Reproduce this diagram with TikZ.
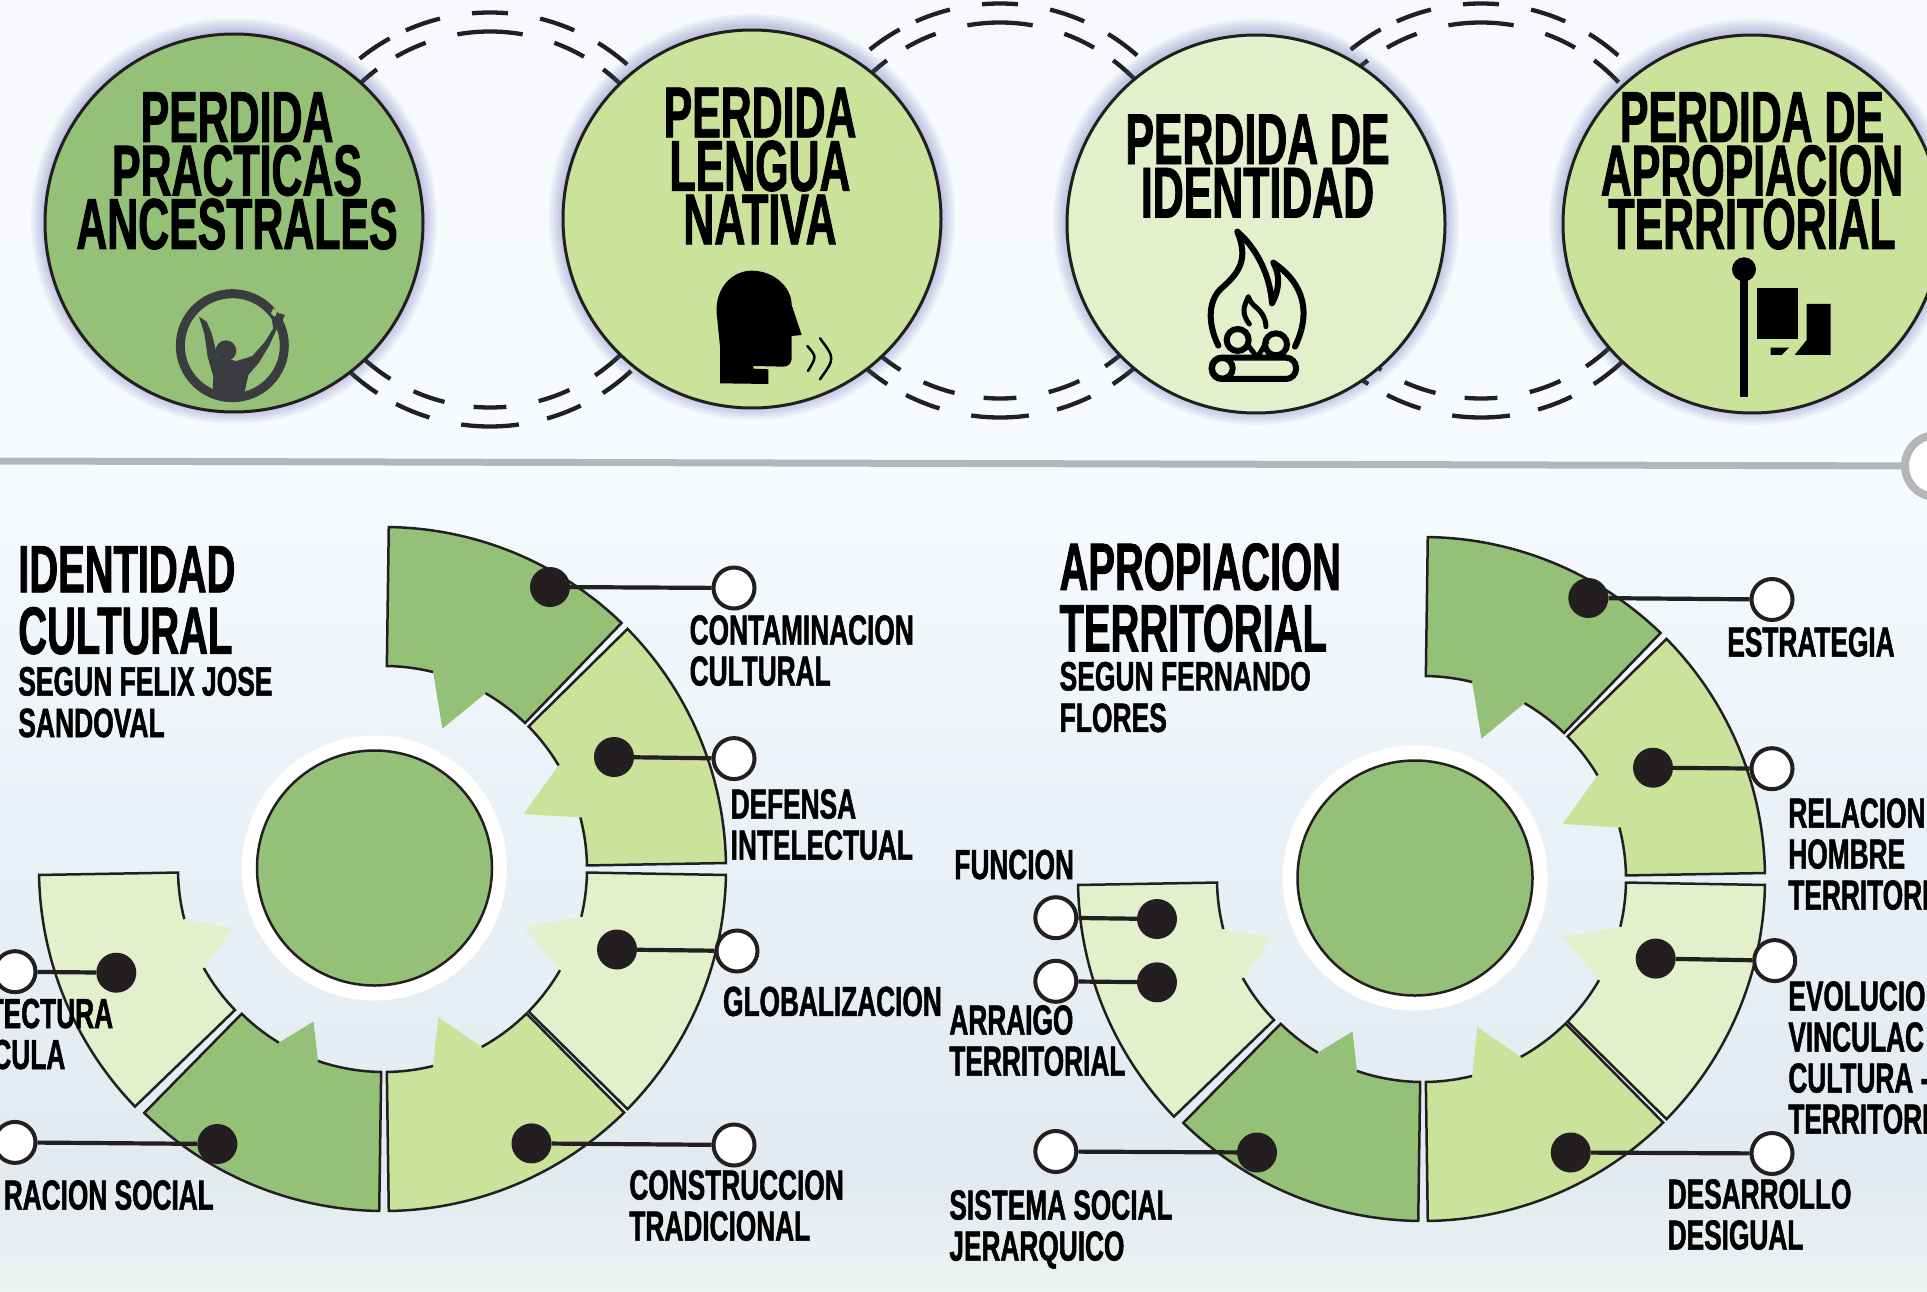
\documentclass[tikz,border=0pt]{standalone}
\usepackage{fontspec}
\setmainfont[FakeStretch=0.595,FakeBold=1.2]{Liberation Sans}
\newfontfamily\widertype[FakeStretch=0.645,FakeBold=1.2]{Liberation Sans}
\newfontfamily\tagtype[FakeStretch=0.625,FakeBold=1.2]{Liberation Sans}
\usepackage{tikz}

\definecolor{leafdark}{HTML}{94C077}
\definecolor{leafmid}{HTML}{CAE29A}
\definecolor{leafpale}{HTML}{E4EFCB}
\definecolor{inkline}{HTML}{231F20}
\definecolor{railgray}{HTML}{B5B6B8}
\definecolor{haloblue}{HTML}{5A5FB0}
\definecolor{figuregray}{HTML}{3A3C40}
\definecolor{skyone}{HTML}{F7F9FC}
\definecolor{skytwo}{HTML}{F7FAFE}
\definecolor{skythree}{HTML}{EBF2F7}
\definecolor{skyfour}{HTML}{E2EAF0}
\definecolor{skyfive}{HTML}{EEF2F1}

\tikzset{
  bigdisc/.style={circle,draw=inkline,line width=3,minimum size=378pt,inner sep=0},
  coredisc/.style={circle,draw=inkline,line width=2.5,fill=leafdark,minimum size=235pt,inner sep=0},
  corering/.style={circle,fill=white,minimum size=265pt,inner sep=0},
  dotnode/.style={circle,fill=inkline,minimum size=40pt,inner sep=0},
  hollownode/.style={circle,draw=inkline,line width=4,fill=white,minimum size=41pt,inner sep=0},
  linkline/.style={draw=inkline,line width=4.2},
  dashpiece/.style={draw=inkline,line width=4.3},
  discfont/.style={font=\bfseries\fontsize{72}{53.5}\selectfont,align=center,inner sep=0},
  headfont/.style={font=\bfseries\fontsize{67}{61.5}\selectfont,align=left,anchor=north west,inner sep=0,xshift=-1.5pt},
  subfont/.style={font=\widertype\bfseries\fontsize{41}{41.5}\selectfont,align=left,anchor=north west,inner sep=0,xshift=-1.5pt},
  tagfont/.style={font=\tagtype\bfseries\fontsize{42}{41}\selectfont,align=left,anchor=north west,inner sep=0,xshift=-1.5pt},
}

\begin{document}
\begin{tikzpicture}[x=1pt,y=-1pt]
\path[use as bounding box] (0,0) rectangle (1927,1292);
\clip (0,0) rectangle (1927,1292);

\shade[top color=skyone,bottom color=skytwo] (0,0) rectangle (1927,480);
\shade[top color=skytwo,bottom color=skythree] (0,480) rectangle (1927,800);
\shade[top color=skythree,bottom color=skyfour] (0,800) rectangle (1927,1170);
\shade[top color=skyfour,bottom color=skyfive] (0,1170) rectangle (1927,1292);

\foreach \ringx/\ringy in {490/219.5,1000/210.5,1481/210.5}{
  \foreach \angfrom/\angto/\rad in {85/95/207,66/76/207,48.5/58.5/207,104/114/207,119/129/207,
      80/100/188,60/70/188,43/53/188,110/120/188,127/137/188,
      262/278/207,243/253/207,286/296/207,303/313/207,227/237/207,
      265/275/188,246/256/188,285/295/188,304/314/188,228/238/188}{
    \draw[dashpiece,shift={(\ringx,\ringy)},yscale=-1] (\angfrom:\rad) arc[start angle=\angfrom,end angle=\angto,radius=\rad];
  }
}

\foreach \discx/\discy in {234/221,752/217,1256/222,1752/222}{
  \foreach \glow in {2,4,...,14}{
    \fill[haloblue,opacity=.055] (\discx,\discy) circle[radius=189+\glow];
  }
}

\node[bigdisc,fill=leafdark] (practicas) at (234,223) {};
\node[bigdisc,fill=leafmid] (lengua) at (752,219) {};
\node[bigdisc,fill=leafpale] (identidad) at (1256,224) {};
\node[bigdisc,fill=leafmid] (apropiacion) at (1752,224) {};

\node[discfont] (practicastext) at (237,171) {PERDIDA\\PRACTICAS\\ANCESTRALES};
\node[discfont] (lenguatext) at (760,166) {PERDIDA\\LENGUA\\NATIVA};
\node[discfont] (identidadtext) at (1257.5,166) {PERDIDA DE\\IDENTIDAD};
\node[discfont] (apropiaciontext) at (1752,171) {PERDIDA DE\\APROPIACION\\TERRITORIAL};

\begin{scope}[shift={(165,280)},x=.3333pt,y=-.3333pt]
\draw[figuregray,line width=9] (202,197) circle[radius=156];
\fill[leafdark] (325,85) -- (338,92) -- (330,112) -- (318,100) -- cycle;
\fill[figuregray] (102,110) -- (125,125) -- (140,160) -- (158,232) -- (215,243) -- (262,228) -- (300,185) -- (325,145)
  -- (320,115) -- (345,100) -- (360,105) -- (350,125) -- (335,148) -- (312,198) -- (282,248) -- (250,285) -- (238,340)
  -- (200,362) -- (143,335) -- (145,290) -- (128,230) -- (118,160) -- cycle;
\fill[figuregray] (183,212) circle[radius=31];
\end{scope}

\begin{scope}[shift={(700,260)},x=.3333pt,y=-.3333pt]
\fill[black] (60,370) -- (60,260) -- (50,160) .. controls (45,80) and (100,32) .. (155,32)
  .. controls (220,32) and (275,80) .. (275,135) -- (305,225) -- (275,228) -- (275,295)
  .. controls (275,310) and (265,320) .. (250,320) -- (160,318) -- (160,326) -- (205,328) -- (205,372) -- cycle;
\draw[black,line width=2.5,line cap=round] (322,258) .. controls (350,290) .. (324,333);
\draw[black,line width=2.5,line cap=round] (360,235) .. controls (405,295) .. (360,358);
\end{scope}

\begin{scope}[shift={(1190,225)},x=.3333pt,y=-.3333pt]
\draw[black,line width=6,line cap=round,line join=round] (85,362) .. controls (50,290) and (55,220) .. (100,185)
  .. controls (150,140) and (175,100) .. (142,20) .. controls (200,70) and (240,150) .. (246,235)
  .. controls (270,190) and (270,150) .. (250,113) .. controls (320,160) and (375,240) .. (315,365);
\draw[black,line width=5,line cap=round,line join=round] (178,297) .. controls (150,260) and (165,240) .. (175,215)
  .. controls (185,250) and (225,250) .. (228,305);
\draw[black,line width=6] (143,345) circle[radius=33];
\draw[black,line width=6] (258,358) circle[radius=33];
\draw[black,line width=5] (172,358) -- (200,395);
\draw[black,line width=5] (205,392) -- (232,348);
\draw[black,line width=6,fill=leafpale,rounded corners=10] (65,398) rectangle (318,462);
\draw[black,line width=6,fill=leafpale] (97,430) circle[radius=31];
\end{scope}

\begin{scope}[shift={(1710,250)},x=.3333pt,y=-.3333pt]
\fill[black] (102,58) circle[radius=36];
\fill[black] (91,88) rectangle (114,440);
\fill[black] (141,113) rectangle (263,267);
\fill[black] (290,162) -- (362,162) -- (362,315) -- (254,315) -- (290,270) -- cycle;
\fill[black] (182,293) -- (237,293) -- (215,315) -- (182,315) -- cycle;
\end{scope}

\coordinate (railstart) at (0,461);
\node[circle,draw=railgray,line width=8,fill=white,minimum size=62pt,inner sep=0] (railend) at (1936,466) {};
\draw[railgray,line width=7] (railstart) -- (railend);

\foreach \wheelx/\wheely in {384/869,1423/879}{
  \foreach \segfrom/\segto/\toothfrom/\toothtip/\tipr/\toothto/\segcolor/\segnudge in {
      89.2/46/76/67.4/152/60/leafdark/0,
      44.6/1/30.7/21.5/150/14.7/leafmid/0,
      -1/-44.6/-13.6/-22.5/151/-29.9/leafpale/0,
      -45.4/-89.2/-61.2/-69.9/158/-76/leafmid/0,
      -90.8/-134.5/-109/-114.8/168/-121.2/leafdark/0,
      -136/-179/-150.8/-158.3/159/-165.7/leafpale/-3}{
    \fill[\segcolor,shift={(\wheelx+\segnudge,\wheely)},yscale=-1] (\segfrom:342) arc[start angle=\segfrom,end angle=\segto,radius=342]
      -- (\segto:203) arc[start angle=\segto,end angle=\toothto,radius=203]
      -- (\toothtip:\tipr) -- (\toothfrom:203) arc[start angle=\toothfrom,end angle=\segfrom,radius=203] -- cycle;
    \draw[inkline,line width=2.5,shift={(\wheelx+\segnudge,\wheely)},yscale=-1] (\toothfrom:203) arc[start angle=\toothfrom,end angle=\segfrom,radius=203]
      -- (\segfrom:342) arc[start angle=\segfrom,end angle=\segto,radius=342]
      -- (\segto:203) arc[start angle=\segto,end angle=\toothto,radius=203];
  }
}

\node[corering] (ringone) at (374.5,868) {};
\node[coredisc] (coreone) at (374.5,868) {};
\node[corering] (ringtwo) at (1415,878) {};
\node[coredisc] (coretwo) at (1415,878) {};

\node[hollownode] (contaminacionend) at (734,588) {};
\node[dotnode] (contaminacion) at (550,587) {};
\draw[linkline] (contaminacion) -- (contaminacionend);
\node[hollownode] (defensaend) at (734,758.6) {};
\node[dotnode] (defensa) at (614,757) {};
\draw[linkline] (defensa) -- (defensaend);
\node[hollownode] (globalizacionend) at (737,951) {};
\node[dotnode] (globalizacion) at (617,949.5) {};
\draw[linkline] (globalizacion) -- (globalizacionend);
\node[hollownode] (construccionend) at (734,1145) {};
\node[dotnode] (construccion) at (531.5,1143.4) {};
\draw[linkline] (construccion) -- (construccionend);
\node[hollownode] (integracionend) at (15,1142.4) {};
\node[dotnode] (integracion) at (217.4,1144) {};
\draw[linkline] (integracion) -- (integracionend);
\node[hollownode] (arquitecturaend) at (15,971.7) {};
\node[dotnode] (arquitectura) at (116.3,972.7) {};
\draw[linkline] (arquitectura) -- (arquitecturaend);

\node[hollownode] (estrategiaend) at (1772,599.5) {};
\node[dotnode] (estrategia) at (1588.3,598) {};
\draw[linkline] (estrategia) -- (estrategiaend);
\node[hollownode] (relacionend) at (1772,768.7) {};
\node[dotnode] (relacion) at (1653,767.7) {};
\draw[linkline] (relacion) -- (relacionend);
\node[hollownode] (evolucionend) at (1774.7,960.6) {};
\node[dotnode] (evolucion) at (1655.7,958.6) {};
\draw[linkline] (evolucion) -- (evolucionend);
\node[hollownode] (desarrolloend) at (1772,1153.5) {};
\node[dotnode] (desarrollo) at (1570.7,1152.5) {};
\draw[linkline] (desarrollo) -- (desarrolloend);
\node[hollownode] (sistemaend) at (1055.8,1151.5) {};
\node[dotnode] (sistema) at (1257,1152.5) {};
\draw[linkline] (sistema) -- (sistemaend);
\node[hollownode] (arraigoend) at (1055.8,981.3) {};
\node[dotnode] (arraigo) at (1157,982.3) {};
\draw[linkline] (arraigo) -- (arraigoend);
\node[hollownode] (funcionend) at (1055.8,917.7) {};
\node[dotnode] (funcion) at (1157,919) {};
\draw[linkline] (funcion) -- (funcionend);

\node[headfont] (titleone) at (19.6,546) {IDENTIDAD\\CULTURAL};
\node[subfont] (authorone) at (19.6,666.7) {SEGUN FELIX JOSE\\SANDOVAL};
\node[tagfont] (contaminaciontext) at (691,615) {CONTAMINACION\\CULTURAL};
\node[tagfont] (defensatext) at (732,789) {DEFENSA\\INTELECTUAL};
\node[tagfont] (globalizaciontext) at (724.4,986.4) {GLOBALIZACION};
\node[tagfont] (construcciontext) at (630.7,1170) {CONSTRUCCION\\TRADICIONAL};
\node[tagfont,anchor=north east,xshift=1.5pt] (arquitecturatext) at (113.3,998.5) {TECTURA};
\node[tagfont,anchor=north east,xshift=1.5pt] (vernaculatext) at (65.5,1039.5) {CULA};
\node[tagfont,anchor=north east,xshift=1.5pt] (integraciontext) at (214,1180) {RACION SOCIAL};

\node[headfont] (titletwo) at (1060.9,543) {APROPIACION\\TERRITORIAL};
\node[subfont] (authortwo) at (1060.9,661.6) {SEGUN FERNANDO\\FLORES};
\node[tagfont] (estrategiatext) at (1728.7,627) {ESTRATEGIA};
\node[tagfont] (relaciontext) at (1789.7,798) {RELACION\\HOMBRE\\TERRITORI};
\node[tagfont] (evoluciontext) at (1789.7,981) {EVOLUCION\\VINCULAC\\CULTURA -\\TERRITORI};
\node[tagfont] (desarrollotext) at (1669,1179) {DESARROLLO\\DESIGUAL};
\node[tagfont] (funciontext) at (955.7,849.5) {FUNCION};
\node[tagfont] (arraigotext) at (950.7,1005) {ARRAIGO\\TERRITORIAL};
\node[tagfont] (sistematext) at (950.7,1190) {SISTEMA SOCIAL\\JERARQUICO};
\end{tikzpicture}
\end{document}
